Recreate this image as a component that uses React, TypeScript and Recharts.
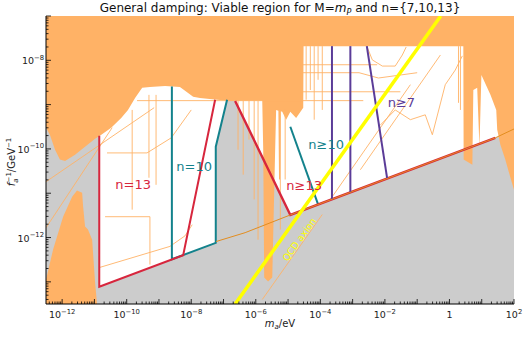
import { ComposedChart, Area, Line, Scatter, XAxis, YAxis } from 'recharts';

// Axes are log10(m_a / eV) and log10(f_a^-1 / GeV^-1)
const W = 523;
const H = 337;
const X_DOMAIN: [number, number] = [-12.5, 2];
const Y_DOMAIN: [number, number] = [-13.5, -7];

const xDecades = [-13, -12, -11, -10, -9, -8, -7, -6, -5, -4, -3, -2, -1, 0, 1, 2];
const yDecades = [-14, -13, -12, -11, -10, -9, -8, -7];
const xLabelDecades = [-12, -10, -8, -6, -4, -2, 0, 2];
const yLabelDecades = [-12, -10, -8];
const minorFactors = [2, 3, 4, 5, 6, 7, 8, 9];

// lower edge of the excluded (orange) region hanging from the top
const excludedTopEdge: [number, number][] = [
  [-12.5, -9.52], [-12.38, -9.68], [-12.22, -10.02], [-12.07, -10.24], [-11.91, -10.27],
  [-11.6, -10.13], [-11.29, -9.95], [-10.98, -9.77], [-10.83, -9.7], [-10.48, -9.52],
  [-10.17, -9.3], [-9.96, -9.12], [-9.74, -8.85], [-9.52, -8.62], [-9.28, -8.6],
  [-8.81, -8.58], [-8.35, -8.6], [-7.94, -8.82], [-7.73, -8.85], [-7.2, -8.89],
  [-6.79, -8.91], [-5.8, -8.91], [-5.77, -10.02], [-5.74, -12.9], [-5.62, -12.99],
  [-5.49, -12.9], [-5.4, -10.02], [-5.37, -9.12], [-5.3, -9.14], [-5.28, -10.69],
  [-5.25, -10.69], [-5.23, -9.15], [-5.18, -9.16], [-5.06, -9.34], [-4.93, -9.16],
  [-4.75, -9.3], [-4.53, -9.07], [-4.52, -7.68], [0.43, -7.68], [0.44, -10.24],
  [0.71, -10.36], [0.74, -8.67], [0.86, -8.62], [0.93, -9.95], [0.99, -8.33],
  [1.27, -8.78], [1.45, -9.12], [1.48, -9.57], [1.58, -9.91], [1.73, -10.24],
  [1.89, -10.65], [2, -10.92],
];

// upper edge of the excluded region rising from the bottom left
const excludedBottomEdge: [number, number][] = [
  [-12.5, -12.95], [-12.28, -12.27], [-11.97, -11.53], [-11.69, -11.08], [-11.54, -10.94],
  [-11.38, -10.99], [-11.35, -11.3], [-11.29, -11.75], [-11.2, -11.82], [-11.07, -12.05],
  [-10.98, -13.01], [-10.92, -13.49],
];

// lower edges of the viable (white) regions
const viableLowN13N10: [number, number][] = [
  [-10.85, -13.11], [-7.24, -12.12], [-7.24, -9.95], [-6.89, -8.89],
];
const viableLowUpper: [number, number][] = [
  [-6.64, -8.92], [-4.93, -11.49], [2, -9.59],
];

const n13Edge: [number, number][] = [[-10.85, -9.7], [-10.85, -13.11], [-8.25, -12.4], [-7.26, -8.89]];
const n10Edge: [number, number][] = [[-8.6, -8.59], [-8.6, -12.49], [-7.24, -12.12], [-7.24, -9.95], [-6.89, -8.89]];
const n13PlusEdge: [number, number][] = [[-6.64, -8.92], [-4.93, -11.49], [1.42, -9.75]];
const n10PlusEdge: [number, number][] = [[-4.93, -9.5], [-4.07, -11.25]];
const n7Edges: [number, number][][] = [
  [[-3.64, -7.68], [-3.64, -11.135]],
  [[-3.07, -7.68], [-3.07, -10.98]],
  [[-2.56, -7.68], [-1.93, -10.665]],
];
const lowerBound: [number, number][] = [[-7.23, -12.09], [-6.33, -11.89], [-4.93, -11.49], [1.42, -9.75], [2, -9.55]];
const qcdAxion: [number, number][] = [[-6.64, -13.5], [-0.27, -7]];

// faint individual constraint curves
const thinCurves: [number, number][][] = [
  [[-9.68, -8.91], [-2.67, -8.91]],
  [[-12.5, -10.74], [-9.15, -9.07]],
  [[-12.5, -11.78], [-10.45, -9.52]],
  [[-10.86, -12.68], [-8.66, -12.2], [-8.19, -11.96], [-7.97, -11.71]],
  [[-10.61, -10.09], [-9.37, -10.09], [-8.62, -9.75], [-8.0, -9.12]],
  [[-10.67, -11.53], [-9.28, -11.53], [-9.28, -12.61]],
  [[-9.83, -9.12], [-9.83, -11.37]],
  [[-9.31, -8.78], [-9.31, -10.65]],
  [[-9.09, -8.78], [-9.09, -10.81]],
  [[-6.55, -8.91], [-6.55, -10.02]],
  [[-6.39, -8.91], [-6.39, -10.58]],
  [[-6.21, -8.91], [-6.21, -9.79]],
  [[-6.05, -8.91], [-6.05, -11.14]],
  [[-5.93, -8.91], [-5.93, -12.05]],
  [[-5.24, -9.12], [-5.24, -11.82]],
  [[-5.09, -9.12], [-5.09, -10.69]],
  [[-4.44, -7.68], [-4.44, -8.89]],
  [[-4.31, -7.68], [-4.31, -8.67]],
  [[-4.19, -7.68], [-4.19, -9.34]],
  [[-4.07, -7.68], [-4.07, -8.44]],
  [[-3.94, -7.68], [-3.94, -9.12]],
  [[0.28, -7.68], [0.28, -8.96]],
  [[0.34, -7.68], [0.34, -9.12]],
  [[-4.62, -8.1], [-2.24, -8.1]],
  [[-4.62, -8.28], [-2.8, -8.28], [-2.2, -8.4], [-1.0, -8.28]],
  [[-4.62, -8.71], [-1.52, -8.71]],
  [[-2.55, -7.7], [-2.39, -7.99], [-2.08, -8.13], [-1.68, -8.13], [-1.46, -7.88], [-1.34, -7.7]],
  [[-2.14, -9.46], [-1.68, -9.12], [-1.21, -9.34], [-0.75, -9.23], [-0.53, -9.68], [-0.13, -8.55], [0.18, -8.22], [0.4, -7.9]],
  [[-3.69, -11.14], [-1.21, -8.55]],
  [[-2.76, -10.47], [-0.28, -7.88]],
  [[-5.8, -13.4], [-3.94, -11.48]],
];

const regionLabels = [
  { x: -9.8, y: -10.81, text: 'n=13', key: 'n13' },
  { x: -7.91, y: -10.4, text: 'n=10', key: 'n10' },
  { x: -4.5, y: -10.83, text: 'n≥13', key: 'n13' },
  { x: -3.82, y: -9.905, text: 'n≥10', key: 'n10' },
  { x: -1.49, y: -8.96, text: 'n≥7', key: 'n7' },
];
const qcdLabel = [{ x: -4.655, y: -12.045, text: 'QCD axion' }];

const ORANGE = '#ffb266';
const GRAY = '#cccccc';
const COLORS: Record<string, string> = { n13: '#d7263d', n10: '#13828c', n7: '#5b3c98' };
const YELLOW = '#ffff00';
const DARK_ORANGE = '#e38d1f';
const FONT = 'DejaVu Sans, sans-serif';

const pts = (p: [number, number][]) => p.map(([x, y]) => ({ x, y }));
const bandDown = (p: [number, number][], top: number) => p.map(([x, y]) => ({ x, band: [y, top] }));
const bandUp = (p: [number, number][], bottom: number) => p.map(([x, y]) => ({ x, band: [bottom, y] }));
const withMinor = (decades: number[], [lo, hi]: [number, number]) =>
  decades
    .flatMap((d) => [d, ...minorFactors.map((k) => d + Math.log10(k))])
    .filter((v) => v >= lo - 1e-9 && v <= hi + 1e-9);

const xTicks = withMinor(xDecades, X_DOMAIN);
const yTicks = withMinor(yDecades, Y_DOMAIN);
const isMajor = (v: number) => Math.abs(v - Math.round(v)) < 1e-6;
const expText = (d: number) => (d < 0 ? '\u2212' + Math.abs(d) : String(d));

function Pow({ x, y, d, anchor }: { x: number; y: number; d: number; anchor: 'middle' | 'end' }) {
  if (d === 0) {
    return (
      <text x={x} y={y} textAnchor={anchor} fontSize={9.5} fontFamily={FONT} fill="#222">1</text>
    );
  }
  return (
    <text x={x} y={y} textAnchor={anchor} fontSize={9.5} fontFamily={FONT} fill="#222">
      <tspan>10</tspan>
      <tspan dy={-4.5} fontSize={6.8}>{expText(d)}</tspan>
    </text>
  );
}

function BottomTick(props: any) {
  const { x, y, payload } = props;
  const v = payload.value;
  const major = isMajor(v);
  const d = Math.round(v);
  return (
    <g>
      <line x1={x} x2={x} y1={y} y2={y - (major ? 5 : 2.5)} stroke="#000" strokeWidth={0.8} />
      {major && xLabelDecades.includes(d) && <Pow x={x} y={y + 14} d={d} anchor="middle" />}
    </g>
  );
}

function TopTick(props: any) {
  const { x, y, payload } = props;
  const major = isMajor(payload.value);
  return <line x1={x} x2={x} y1={y} y2={y + (major ? 5 : 2.5)} stroke="#000" strokeWidth={0.8} />;
}

function LeftTick(props: any) {
  const { x, y, payload } = props;
  const v = payload.value;
  const major = isMajor(v);
  const d = Math.round(v);
  return (
    <g>
      <line x1={x} x2={x + (major ? 5 : 2.5)} y1={y} y2={y} stroke="#000" strokeWidth={0.8} />
      {major && yLabelDecades.includes(d) && <Pow x={x - 2} y={y + 4} d={d} anchor="end" />}
    </g>
  );
}

function RightTick(props: any) {
  const { x, y, payload } = props;
  const major = isMajor(payload.value);
  return <line x1={x} x2={x - (major ? 5 : 2.5)} y1={y} y2={y} stroke="#000" strokeWidth={0.8} />;
}

function RegionLabel(props: any) {
  const { cx, cy, payload } = props;
  return (
    <text x={cx} y={cy} textAnchor="middle" dominantBaseline="central" fontSize={13}
      fontFamily={FONT} fill={COLORS[payload.key]}>
      {payload.text}
    </text>
  );
}

function QcdText(props: any) {
  const { cx, cy, payload } = props;
  return (
    <text x={cx} y={cy} textAnchor="middle" dominantBaseline="central" fontSize={9.5}
      fontFamily={FONT} fill={YELLOW} transform={`rotate(-54.5 ${cx} ${cy})`}>
      {payload.text}
    </text>
  );
}

export default function App() {
  const area = { type: 'linear' as const, dataKey: 'band', stroke: 'none', fillOpacity: 1,
    isAnimationActive: false, dot: false, activeDot: false };
  const line = { type: 'linear' as const, dataKey: 'y', dot: false, activeDot: false,
    isAnimationActive: false };
  return (
    <div style={{ position: 'absolute', left: 0, top: 0, width: W, height: H, background: '#fff' }}>
      <ComposedChart width={W} height={H} margin={{ top: 16, right: 9, bottom: 0, left: 0 }}>
        <Area {...area} data={bandUp([[X_DOMAIN[0], Y_DOMAIN[1]], [X_DOMAIN[1], Y_DOMAIN[1]]], Y_DOMAIN[0])} fill={GRAY} />
        <Area {...area} data={bandDown(viableLowN13N10, Y_DOMAIN[1])} fill="#ffffff" />
        <Area {...area} data={bandDown(viableLowUpper, Y_DOMAIN[1])} fill="#ffffff" />
        <Area {...area} data={bandDown(excludedTopEdge, Y_DOMAIN[1])} fill={ORANGE} />
        <Area {...area} data={bandUp(excludedBottomEdge, Y_DOMAIN[0])} fill={ORANGE} />

        {thinCurves.map((c, i) => (
          <Line key={`thin-${i}`} {...line} data={pts(c)} stroke={ORANGE} strokeWidth={0.9} />
        ))}

        <Line {...line} data={pts(n10Edge)} stroke={COLORS.n10} strokeWidth={2} />
        <Line {...line} data={pts(n13Edge)} stroke={COLORS.n13} strokeWidth={2} />
        <Line {...line} data={pts(n10PlusEdge)} stroke={COLORS.n10} strokeWidth={2} />
        <Line {...line} data={pts(n13PlusEdge)} stroke={COLORS.n13} strokeWidth={2.4} />
        {n7Edges.map((c, i) => (
          <Line key={`n7-${i}`} {...line} data={pts(c)} stroke={COLORS.n7} strokeWidth={2} />
        ))}
        <Line {...line} data={pts(lowerBound)} stroke={DARK_ORANGE} strokeWidth={1} />
        <Line {...line} data={pts(qcdAxion)} stroke={YELLOW} strokeWidth={3.5} />

        <Scatter data={regionLabels} dataKey="y" isAnimationActive={false} shape={(p: any) => <RegionLabel {...p} />} />
        <Scatter data={qcdLabel} dataKey="y" isAnimationActive={false} shape={(p: any) => <QcdText {...p} />} />

        <XAxis xAxisId={0} dataKey="x" type="number" domain={X_DOMAIN} allowDataOverflow ticks={xTicks}
          interval={0} height={33} tickSize={0} tickMargin={0} tickLine={false}
          axisLine={{ stroke: '#000', strokeWidth: 1 }} tick={(p: any) => <BottomTick {...p} />} />
        <XAxis xAxisId="top" orientation="top" dataKey="x" type="number" domain={X_DOMAIN} allowDataOverflow
          ticks={xTicks} interval={0} height={0} tickSize={0} tickMargin={0} tickLine={false}
          axisLine={{ stroke: '#000', strokeWidth: 1 }} tick={(p: any) => <TopTick {...p} />} />
        <YAxis yAxisId={0} dataKey="y" type="number" domain={Y_DOMAIN} allowDataOverflow ticks={yTicks}
          interval={0} width={46} tickSize={0} tickMargin={0} tickLine={false}
          axisLine={{ stroke: '#000', strokeWidth: 1 }} tick={(p: any) => <LeftTick {...p} />} />
        <YAxis yAxisId="right" orientation="right" type="number" domain={Y_DOMAIN} allowDataOverflow
          ticks={yTicks} interval={0} width={0} tickSize={0} tickMargin={0} tickLine={false}
          axisLine={{ stroke: '#000', strokeWidth: 1 }} tick={(p: any) => <RightTick {...p} />} />
      </ComposedChart>
      <svg width={W} height={H} style={{ position: 'absolute', left: 0, top: 0, pointerEvents: 'none' }}>
        <text x={280} y={12} textAnchor="middle" fontSize={12} fontFamily={FONT} fill="#111">
          <tspan>General damping: Viable region for M=</tspan>
          <tspan fontStyle="italic">m</tspan>
          <tspan fontStyle="italic" fontSize={8} dy={2.5}>P</tspan>
          <tspan dy={-2.5}> and n={'{'}7,10,13{'}'}</tspan>
        </text>
        <text x={280} y={327} textAnchor="middle" fontSize={10} fontFamily={FONT} fill="#222">
          <tspan fontStyle="italic">m</tspan>
          <tspan fontStyle="italic" fontSize={7} dy={2}>a</tspan>
          <tspan dy={-2}>/eV</tspan>
        </text>
        <text transform="translate(15,162) rotate(-90)" textAnchor="middle" fontSize={10} fontFamily={FONT} fill="#222">
          <tspan fontStyle="italic">f</tspan>
          <tspan fontStyle="italic" fontSize={7} dy={2.5}>a</tspan>
          <tspan fontSize={7} dx={-4} dy={-7}>{'\u2212'}1</tspan>
          <tspan dy={4.5}>/GeV</tspan>
          <tspan fontSize={7} dy={-4}>{'\u2212'}1</tspan>
        </text>
      </svg>
    </div>
  );
}
